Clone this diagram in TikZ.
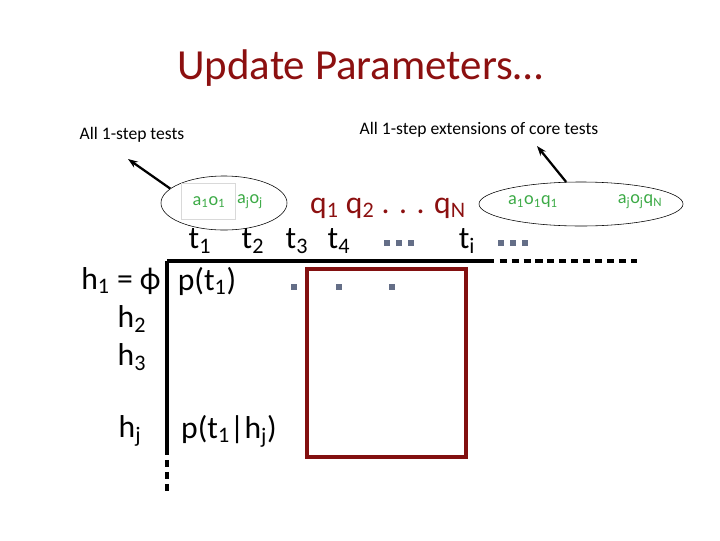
\documentclass[tikz,border=0pt]{standalone}
\usepackage{fontspec}
\setmainfont{Carlito}
\usetikzlibrary{arrows.meta,positioning,shapes.geometric}
\definecolor{titlered}{RGB}{140,16,16}
\definecolor{boxred}{RGB}{130,16,16}
\definecolor{testgreen}{RGB}{60,170,70}
\definecolor{dotgray}{RGB}{100,110,135}

\begin{document}
\begin{tikzpicture}[x=0.025cm, y=-0.025cm, >={Stealth[length=7pt,width=5pt]}]
    \tikzset{
        a/.style={->, line width=1.6pt},
        lbl/.style={font=\fontsize{12.5}{14}\selectfont, inner sep=0pt},
        big/.style={font=\fontsize{22.5}{24}\selectfont, inner sep=0pt},
        grn/.style={text=testgreen, font=\fontsize{13}{15}\selectfont, inner sep=0pt},
        ell/.style={draw, ellipse, thin, inner sep=0pt},
        dot/.style={fill=dotgray, minimum size=3.8pt, inner sep=0pt},
        ax/.style={line width=2.2pt},
        axd/.style={line width=2.2pt, dash pattern=on 5pt off 3.5pt}
    }
    \useasboundingbox (0,0) rectangle (720,540);

    % title
    \node [text=titlered, font=\fontsize{30.5}{33}\selectfont] (title) at (360,68) {Update Parameters…};

    % the two sets of tests
    \node [lbl] (lone) at (132,135) {All 1-step tests};
    \node [lbl] (lext) at (479,130) {All 1-step extensions of core tests};

    \node [ell, minimum width=3.15cm, minimum height=1.35cm] (ell1) at (224,203) {};
        \node [draw=gray!30, minimum width=1.35cm, minimum height=0.9cm] (box) at (208,201) {};
        \node [grn] (aone) at (209,202) {a\textsubscript{1}o\textsubscript{1}};
        \node [grn] (aj) at (250,202) {a\textsubscript{j}o\textsubscript{j}};
        \coordinate (tipone) at (128,159);
        \draw [a] (ell1.165) -- (tipone);

    \node [ell, minimum width=5.1cm, minimum height=1.1cm] (ell2) at (581,204) {};
        \node [grn] (aq) at (533,202) {a\textsubscript{1}o\textsubscript{1}q\textsubscript{1}};
        \node [grn] (ajq) at (640,202) {a\textsubscript{j}o\textsubscript{j}q\textsubscript{N}};
        \coordinate (tipext) at (537,146);
        \draw [a] (ell2.124) -- (tipext);

    \node [big, text=titlered] (qs) at (388,208) {q\textsubscript{1} q\textsubscript{2} . . . q\textsubscript{N}};

    % column heads
    \node [big] (t1) at (200,241) {t\textsubscript{1}};
    \node [big] (t2) at (253,241) {t\textsubscript{2}};
    \node [big] (t3) at (297,241) {t\textsubscript{3}};
    \node [big] (t4) at (339,241) {t\textsubscript{4}};
    \foreach \x [count=\i] in {387,399,411} \node [dot] (da\i) at (\x,243) {};
    \node [big] (ti) at (467,241) {t\textsubscript{i}};
    \foreach \x [count=\i] in {501,513,525} \node [dot] (db\i) at (\x,243) {};

    % row heads
    \node [big] (h1) at (121,281) {h\textsubscript{1} = ϕ};
    \node [big] (h2) at (132,319) {h\textsubscript{2}};
    \node [big] (h3) at (132,357) {h\textsubscript{3}};
    \node [big] (hj) at (130,431) {h\textsubscript{j}};

    % axes
    \coordinate (corner) at (167,261);
    \coordinate (hend) at (494,261);
    \coordinate (hdash) at (637,261);
    \coordinate (vend) at (167,448);
    \coordinate (vdash) at (167,493);
    \draw [ax] (corner) -- (hend);
    \draw [axd] ([xshift=4pt]hend) -- (hdash);
    \draw [ax] (corner) -- (vend);
    \draw [axd] (vend) -- (vdash);

    % entries
    \node [big] (p1) at (207,281) {p(t\textsubscript{1})};
    \node [big] (pj) at (229,431) {p(t\textsubscript{1}|h\textsubscript{j})};
    \foreach \x [count=\i] in {294,339,392} \node [dot] (dc\i) at (\x,287) {};

    \draw [boxred, line width=2.6pt] (307,269) rectangle (466,457);
\end{tikzpicture}
\end{document}
